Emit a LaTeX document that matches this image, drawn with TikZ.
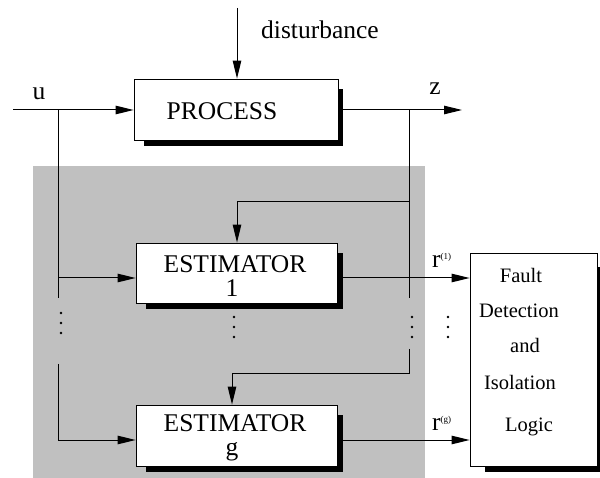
\documentclass[tikz,border=0pt]{standalone}
\usepackage{fontspec}
\setmainfont{Liberation Serif}
\usetikzlibrary{arrows.meta,calc}
\definecolor{panelgray}{RGB}{192,192,192}
\begin{document}
\begin{tikzpicture}[x=1pt,y=-1pt,
  font=\fontsize{25.5}{30}\selectfont,
  wire/.style={line width=1pt},
  flow/.style={wire,-{Triangle[length=18pt,width=8.5pt]}},
  blockbox/.style={draw,line width=0.8pt,fill=white,inner sep=0pt},
  lbl/.style={anchor=base,inner sep=0pt},
  logictxt/.style={lbl,font=\fontsize{20.5}{24}\selectfont},
  sup/.style={anchor=base west,inner sep=0pt},
  vdot/.style={circle,fill=black,inner sep=0pt,minimum size=2.8pt}]
\useasboundingbox (0,0) rectangle (600,478);

% shaded estimator bank
\fill[panelgray] (33,166) rectangle (425,478);

% drop shadows of the blocks
\fill (144,89) rectangle (343,146);
\fill (146,253) rectangle (343,309);
\fill (146,415) rectangle (343,472);
\fill (485,267) rectangle (603,472);

% blocks
\node[blockbox,minimum width=204pt,minimum height=61pt] (proc) at (236,109.5) {};
\node[blockbox,minimum width=201pt,minimum height=60pt] (est1) at (236.5,273) {};
\node[blockbox,minimum width=201pt,minimum height=61pt] (estg) at (236.5,435.5) {};
\node[blockbox,minimum width=127pt,minimum height=213pt] (fdi) at (533.5,359.5) {};

% block texts
\node[lbl] (proctxt) at (222,120) {PROCESS};
\node[lbl] (est1a) at (235,273) {ESTIMATOR};
\node[lbl] (est1b) at (232,297) {1};
\node[lbl] (estga) at (235,431) {ESTIMATOR};
\node[lbl] (estgb) at (232,455) {g};
\node[logictxt] (fdi1) at (521,283) {Fault};
\node[logictxt] (fdi2) at (519,318) {Detection};
\node[logictxt] (fdi3) at (525,353) {and};
\node[logictxt] (fdi4) at (520,390) {Isolation};
\node[logictxt] (fdi5) at (529,431) {Logic};

% signal labels
\node[lbl] (dlbl) at (320,39) {disturbance};
\node[lbl] (ulbl) at (39,100) {u};
\node[lbl] (zlbl) at (435,95) {z};
\node[sup] (r1) at (432,268) {r\raisebox{8pt}{\fontsize{9}{10}\selectfont(1)}};
\node[sup] (rg) at (432,430) {r\raisebox{8pt}{\fontsize{9}{10}\selectfont(g)}};

% junction and end points
\coordinate (din) at (237,8);
\coordinate (uin) at (13,110);
\coordinate (uj) at (58,110);
\coordinate (ua) at (58,278);
\coordinate (uaend) at (58,298);
\coordinate (ub) at (58,364);
\coordinate (ubend) at (58,440);
\coordinate (zj) at (409,110);
\coordinate (zend) at (462,110);
\coordinate (za) at (409,202);
\coordinate (zaend) at (409,298);
\coordinate (zb) at (409,349);
\coordinate (zbend) at (409,374);
\coordinate (za1) at (237,202);
\coordinate (zb1) at (232,374);

% process input, disturbance and output
\draw[flow] (din) -- (din |- proc.north);
\draw[flow] (uin) -- (uin -| proc.west);
\draw[flow] (proc.east |- zend) -- (zend);

% input branches to the estimators
\draw[wire] (uj) -- (uaend);
\draw[flow] (ua) -- (ua -| est1.west);
\draw[flow] (ub) -- (ubend) -- (ubend -| estg.west);

% output branches to the estimators
\draw[wire] (zj) -- (zaend);
\draw[flow] (za) -- (za1) -- (za1 |- est1.north);
\draw[flow] (zb) -- (zbend) -- (zb1) -- (zb1 |- estg.north);

% residuals
\draw[flow] (est1.east |- ua) -- (ua -| fdi.west);
\draw[flow] (estg.east |- ubend) -- (ubend -| fdi.west);

% vertical ellipses
\foreach \px/\py [count=\i] in {61/313,234/317,412/317,448/317}{
  \node[vdot] (e\i a) at (\px,\py) {};
  \node[vdot] (e\i b) at (\px,\py+10) {};
  \node[vdot] (e\i c) at (\px,\py+20) {};
}
\end{tikzpicture}
\end{document}
